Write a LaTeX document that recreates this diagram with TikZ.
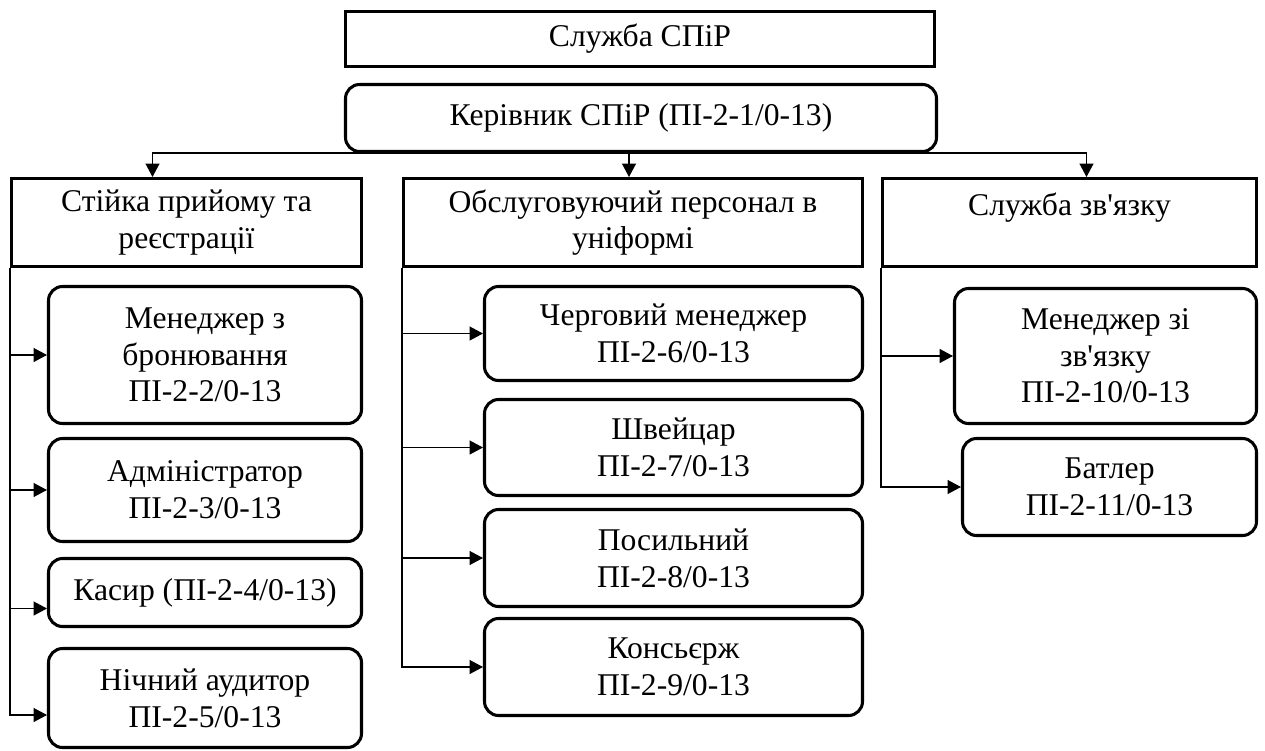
\documentclass[tikz,border=0pt]{standalone}
\usepackage{fontspec}
\setmainfont{Liberation Serif}
\usetikzlibrary{arrows.meta,calc}
\newcommand{\pxu}{0.3mm}
\newcommand{\apos}{{\addfontfeatures{Ligatures=TeXOff}'}}

\begin{document}
\begin{tikzpicture}[x=\pxu, y=-\pxu,
    box/.style={draw, line width=2.6pt, align=center, inner sep=0pt,
        font=\fontsize{27}{31.3}\selectfont},
    rbox/.style={box, rounded corners=12pt},
    link/.style={line width=1pt},
    arr/.style={link, -{Triangle[length=11.5pt,width=12pt]}}]
    \useasboundingbox (0,0) rectangle (1265,751);

    % Top level
    \node[box, minimum width=589*\pxu, minimum height=55*\pxu] (svc) at (640,39) {Служба СПіР};
    \node[rbox, minimum width=591*\pxu, minimum height=67*\pxu] (boss) at (641,118) {Керівник СПіР (ПІ-2-1/0-13)};

    % Departments
    \node[box, minimum width=350*\pxu, minimum height=88*\pxu] (desk) at (186.5,222.5) {Стійка прийому та\\реєстрації};
    \node[box, minimum width=459*\pxu, minimum height=88*\pxu] (staff) at (633,222.5) {Обслуговуючий персонал в\\уніформі};
    \node[box, minimum width=374*\pxu, minimum height=88*\pxu] (comm) at (1069.5,222.5) {Служба зв\apos язку\\~};

    % Front desk
    \node[rbox, minimum width=313*\pxu, minimum height=137*\pxu] (book) at (205,355) {Менеджер з\\бронювання\\ПІ-2-2/0-13};
    \node[rbox, minimum width=313*\pxu, minimum height=103*\pxu] (admin) at (205,490) {Адміністратор\\ПІ-2-3/0-13};
    \node[rbox, minimum width=313*\pxu, minimum height=68*\pxu] (cash) at (205,592.5) {Касир (ПІ-2-4/0-13)};
    \node[rbox, minimum width=313*\pxu, minimum height=99*\pxu] (night) at (205,698) {Нічний аудитор\\ПІ-2-5/0-13};

    % Uniformed staff
    \node[rbox, minimum width=378*\pxu, minimum height=94*\pxu] (duty) at (673.5,333.5) {Черговий менеджер\\ПІ-2-6/0-13};
    \node[rbox, minimum width=378*\pxu, minimum height=96*\pxu] (door) at (673.5,447.5) {Швейцар\\ПІ-2-7/0-13};
    \node[rbox, minimum width=378*\pxu, minimum height=97*\pxu] (bell) at (673.5,558) {Посильний\\ПІ-2-8/0-13};
    \node[rbox, minimum width=378*\pxu, minimum height=97*\pxu] (conc) at (673.5,667) {Консьєрж\\ПІ-2-9/0-13};

    % Communication
    \node[rbox, minimum width=302*\pxu, minimum height=135*\pxu] (link) at (1105.5,356) {Менеджер зі\\зв\apos язку\\ПІ-2-10/0-13};
    \node[rbox, minimum width=294*\pxu, minimum height=97*\pxu] (butl) at (1109.5,487) {Батлер\\ПІ-2-11/0-13};

    % Head to departments
    \draw[arr] (boss.south) -| ([xshift=-34*\pxu]desk.north);
    \draw[arr] (boss.south) -| ([xshift=-4*\pxu]staff.north);
    \draw[arr] (boss.south) -| ([xshift=17*\pxu]comm.north);

    % Front desk branch
    \draw[arr] (desk.south west) |- ([yshift=-17*\pxu]night.west);
    \draw[arr] (desk.south west |- book.west) -- (book.west);
    \draw[arr] (desk.south west |- admin.west) -- (admin.west);
    \draw[arr] ([yshift=-16*\pxu]cash.west -| desk.south west) -- ([yshift=-16*\pxu]cash.west);

    % Uniformed staff branch
    \draw[arr] (staff.south west) |- (conc.west);
    \foreach \n in {duty,door,bell}
        \draw[arr] (staff.south west |- \n.west) -- (\n.west);

    % Communication branch
    \draw[arr] (comm.south west) |- (butl.west);
    \draw[arr] (comm.south west |- link.west) -- (link.west);
\end{tikzpicture}
\end{document}
